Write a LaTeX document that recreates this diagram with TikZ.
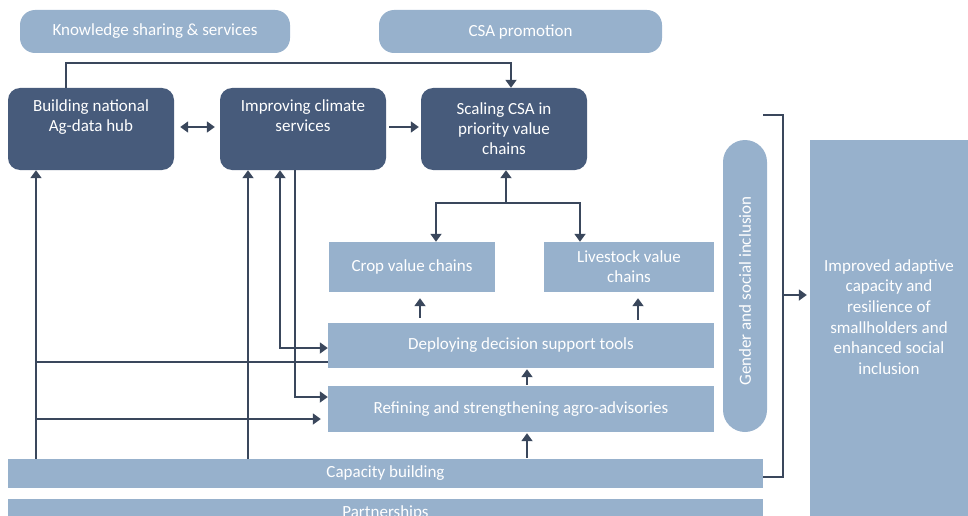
\documentclass[tikz,border=0pt]{standalone}
\usepackage{fontspec}
\setmainfont{Carlito}
\usetikzlibrary{arrows.meta,calc}
\definecolor{darkbox}{HTML}{475B7B}
\definecolor{lightbox}{HTML}{97B1CC}
\definecolor{linec}{HTML}{3A475C}
\begin{document}
\begin{tikzpicture}[x=1pt,y=-1pt,
  txt/.style={text=white,font=\fontsize{17}{20}\selectfont,align=center},
  lbox/.style={fill=lightbox,draw=none,inner sep=0pt,txt},
  dbox/.style={fill=darkbox,draw=none,inner sep=0pt,rounded corners=12pt,txt,minimum width=166pt,minimum height=82pt},
  conn/.style={draw=linec,line width=1.8pt},
  arr/.style={conn,-{Triangle[width=11pt,length=8pt]}},
  arrb/.style={conn,{Triangle[width=11pt,length=8pt]}-{Triangle[width=11pt,length=8pt]}}]
\useasboundingbox (0,0) rectangle (968,516);
\clip (0,0) rectangle (968,516);
% top boxes
\node[lbox,rounded corners=15pt,minimum width=270pt,minimum height=43pt] (ks) at (155,31.5) {Knowledge sharing \& services};
\node[lbox,rounded corners=15pt,minimum width=283pt,minimum height=43pt] (csa) at (520.5,31.5) {CSA promotion};
% dark boxes
\node[dbox] (hub) at (91,129) {Building national\\Ag-data hub\\\strut};
\node[dbox] (clim) at (303,129) {Improving climate\\services\\\strut};
\node[dbox] (scal) at (504,129) {Scaling CSA in\\priority value\\chains};
% value chains
\node[lbox,minimum width=166pt,minimum height=50pt] (crop) at (412,267) {Crop value chains};
\node[lbox,minimum width=170pt,minimum height=50pt] (live) at (629,267) {Livestock value\\chains};
% tools
\node[lbox,minimum width=386pt,minimum height=45pt] (dst) at (521,345.5) {Deploying decision support tools};
\node[lbox,minimum width=386pt,minimum height=46pt] (ref) at (521,409) {Refining and strengthening agro-advisories};
% bars
\node[lbox,minimum width=755pt,minimum height=29pt] (cap) at (385.5,473.5) {Capacity building};
\node[lbox,minimum width=755pt,minimum height=28pt] (part) at (385.5,513) {Partnerships};
% gender
\node[lbox,rounded corners=22pt,minimum width=44pt,minimum height=292pt] (gen) at (745,286) {};
\node[txt,rotate=90] (gentxt) at (745,291) {Gender and social inclusion};
% outcome
\node[lbox,minimum width=158pt,minimum height=376pt] (imp) at (889,328) {};
\node[txt,font=\fontsize{17}{20.6}\selectfont] (imptxt) at (889,317) {Improved adaptive\\capacity and\\resilience of\\smallholders and\\enhanced social\\inclusion};
% helper coordinates
\coordinate (xa) at (36,0);
\coordinate (xb) at (248,0);
\coordinate (xc) at (280,0);
\coordinate (xd) at (295,0);
\coordinate (xe) at (420,0);
\coordinate (xf) at (638,0);
\coordinate (xg) at (527,0);
\coordinate (xtop) at (66,0);
\coordinate (xtop2) at (511,0);
\coordinate (ytop) at (0,63);
\coordinate (jn) at (506,203);
\coordinate (xcrop) at (436,0);
\coordinate (xlive) at (580,0);
\coordinate (y1) at (0,362);
\coordinate (y2) at (0,419);
\coordinate (y3) at (0,348);
\coordinate (y4) at (0,397);
\coordinate (bra1) at (783,115);
\coordinate (bra0) at (763,115);
\coordinate (bra2) at (783,477);
\coordinate (bra3) at (783,295);
% connectors
\draw[arr] (hub.north -| xtop) -- (xtop |- ytop) -- (xtop2 |- ytop) -- (scal.north -| xtop2);
\draw[arrb,shorten <=6pt,shorten >=5pt] ([yshift=2pt]hub.east) -- ([yshift=2pt]clim.west);
\draw[arr,shorten <=3pt,shorten >=2pt] ([yshift=2pt]clim.east) -- ([yshift=2pt]scal.west);
\draw[arr] (jn) -- (scal.south -| jn);
\draw[arr] (jn) -| (crop.north -| xcrop);
\draw[arr] (jn) -| (live.north -| xlive);
\draw[arr] (cap.north -| xa) -- (hub.south -| xa);
\draw[conn] (xa |- y1) -- (dst.west |- y1);
\draw[arr,shorten >=7pt] (xa |- y2) -- (ref.west |- y2);
\draw[arr] (cap.north -| xb) -- (clim.south -| xb);
\draw[arrb] (dst.west |- y3) -| (clim.south -| xc);
\draw[arr] (clim.south -| xd) |- (ref.west |- y4);
\draw[arr,shorten <=5pt,shorten >=6pt] (dst.north -| xe) -- (crop.south -| xe);
\draw[arr,shorten <=3pt,shorten >=6pt] (dst.north -| xf) -- (live.south -| xf);
\draw[arr,shorten <=1pt,shorten >=1pt] (ref.north -| xg) -- (dst.south -| xg);
\draw[arr,shorten <=1pt,shorten >=1pt] (cap.north -| xg) -- (ref.south -| xg);
\draw[conn] (bra0) -- (bra1) -- (bra2) -- (cap.east |- bra2);
\draw[arr,shorten >=3pt] (bra3) -- (imp.west |- bra3);
\end{tikzpicture}
\end{document}
